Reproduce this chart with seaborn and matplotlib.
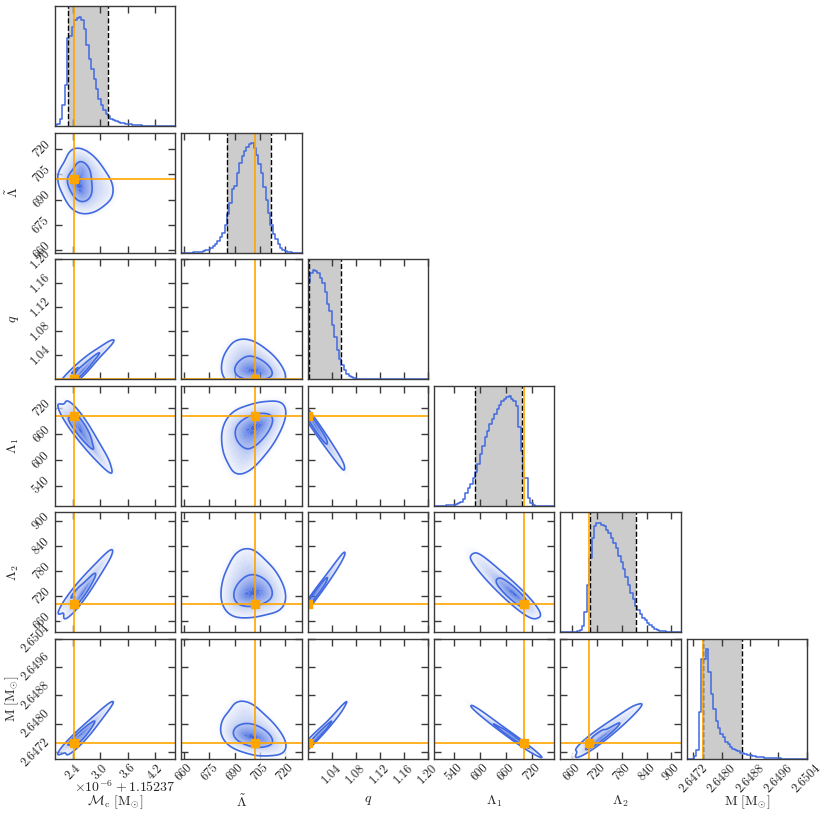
import matplotlib

matplotlib.use("Agg", force=True)
import matplotlib.pyplot as plt
import pandas as pd
import seaborn as sns
from matplotlib.colors import LinearSegmentedColormap

BLUE = "#4169E1"
ORANGE = "#FFA500"

PARAMS = ["mc", "lt", "q", "l1", "l2", "m"]
AXIS_LABELS = [
    r"$\mathcal{M}_{\rm c}\ [\mathrm{M}_{\odot}]$",
    r"$\tilde{\Lambda}$",
    r"$q$",
    r"$\Lambda_1$",
    r"$\Lambda_2$",
    r"$\mathrm{M}\ [\mathrm{M}_{\odot}]$",
]
# chirp mass is shown as offset units of 1e-6 on top of 1.15237
MC_OFFSET_TEXT = r"$\times10^{-6}+1.15237$"

LIMITS = [(2.01, 4.64), (658.3, 729.8), (1.0, 1.2), (493.0, 772.0), (632.0, 922.5), (2.64701, 2.650405)]
TICKS = [
    [2.4, 3.0, 3.6, 4.2],
    [660, 675, 690, 705, 720],
    [1.04, 1.08, 1.12, 1.16, 1.20],
    [540, 600, 660, 720],
    [660, 720, 780, 840, 900],
    [2.6472, 2.6480, 2.6488, 2.6496, 2.6504],
]
TICK_LABELS = [
    ["2.4", "3.0", "3.6", "4.2"],
    ["660", "675", "690", "705", "720"],
    ["1.04", "1.08", "1.12", "1.16", "1.20"],
    ["540", "600", "660", "720"],
    ["660", "720", "780", "840", "900"],
    ["2.6472", "2.6480", "2.6488", "2.6496", "2.6504"],
]
TRUTHS = [2.42, 702.0, 1.0, 701.0, 700.0, 2.64746]
Q_LOW = [2.30, 685.5, 1.0016, 588.5, 704.0, 2.64746]
Q_HIGH = [3.17, 711.7, 1.055, 696.0, 813.5, 2.64858]

# 1D histogram heights (50 bins spanning each axis range)
MC_COUNTS = [3, 6, 24, 64, 124, 265, 272, 300, 321, 327, 329, 321, 294, 244, 204, 174, 144, 114, 84, 64,
             49, 39, 31, 24, 21, 17, 14, 12, 10, 8, 7, 6, 5, 4, 3, 3, 2, 2, 2, 1,
             1, 1, 1, 1, 0.5, 0.5, 0.5, 0.5, 0.3, 0.3]
LT_COUNTS = [0.5, 0.5, 1, 1, 1, 2, 2, 3, 4, 6, 8, 10, 14, 20, 28, 36, 48, 60, 85, 115,
             150, 190, 200, 240, 268, 290, 305, 315, 325, 327, 312, 292, 265, 240, 198, 158, 118, 85, 58, 42,
             26, 16, 9, 5, 3, 2, 1, 1, 0.5, 0.5]
Q_COUNTS = [291, 318, 328, 326, 320, 305, 288, 262, 225, 205, 163, 126, 88, 61, 43, 28, 16, 10, 6, 3,
            2, 1.5, 1, 1, 0.5, 0.5, 0.3, 0.3, 0.3, 0.2, 0.2, 0.2, 0.2, 0.1, 0.1, 0.1, 0.1, 0.1, 0.1, 0.1,
            0, 0, 0, 0, 0, 0, 0, 0, 0, 0.1]
L1_COUNTS = [0.5, 0.5, 0.5, 1, 1, 1.5, 2, 3, 4, 6, 9, 13, 20, 38, 53, 66, 85, 100, 125, 155,
             180, 205, 225, 245, 260, 275, 290, 303, 313, 320, 326, 327, 320, 313, 300, 235, 165, 85, 83, 25,
             8, 3, 1, 0.5, 0.3, 0.2, 0.1, 0.1, 0.1, 0.1]
L2_COUNTS = [0, 0, 0, 0, 0, 0.5, 1, 3, 8, 20, 60, 140, 220, 280, 315, 325, 324, 320, 315, 305,
             295, 280, 265, 250, 228, 210, 188, 166, 142, 118, 98, 78, 66, 55, 44, 36, 28, 21, 15, 10,
             7, 5, 4, 3, 2, 1.5, 1, 0.5, 0.5, 0.5]
M_COUNTS = [0, 0, 0.5, 10, 26, 139, 297, 297, 325, 259, 194, 147, 114, 91, 74, 64, 51, 44, 37, 31,
            26, 23, 19, 17, 14, 12, 11, 9, 8, 7, 6, 5, 4, 4, 3, 3, 2, 2, 2, 1,
            1, 1, 1, 1, 1, 0.5, 0.5, 0.5, 0.5, 0.5]
HIST_COUNTS = [MC_COUNTS, LT_COUNTS, Q_COUNTS, L1_COUNTS, L2_COUNTS, M_COUNTS]

# weighted anchor points of the joint posterior
POINT_MC = [2.48, 2.28, 2.46, 2.56, 2.35, 2.54, 2.64, 2.45, 2.62, 2.74, 2.58, 2.72,
            2.87, 2.72, 2.86, 3.03, 2.92, 3.02, 3.22, 3.12, 3.21]
POINT_LT = [714, 701, 690, 708, 703, 695, 712, 699, 689, 706, 702, 694,
            709, 698, 688, 703, 698, 692, 700, 696, 692]
POINT_Q = [1.002, 1.002, 1.002, 1.009, 1.009, 1.009, 1.017, 1.017, 1.017, 1.026, 1.026, 1.026,
           1.036, 1.036, 1.036, 1.047, 1.047, 1.047, 1.058, 1.058, 1.058]
POINT_L1 = [706, 699, 691, 694, 686, 677, 679, 670, 661, 661, 652, 643,
            641, 632, 623, 619, 610, 601, 595, 586, 577]
POINT_L2 = [709, 704, 698, 723, 717, 710, 738, 731, 724, 755, 748, 741,
            775, 768, 761, 799, 792, 785, 825, 818, 811]
POINT_M = [2.64740, 2.64742, 2.64754, 2.64750, 2.64750, 2.64762, 2.64763, 2.64763, 2.64774,
           2.64779, 2.64779, 2.64788, 2.64798, 2.64798, 2.64806, 2.64822, 2.64822, 2.64828,
           2.64850, 2.64850, 2.64855]
POINT_W = [0.20, 0.20, 0.20, 0.20, 0.20, 0.20, 0.18, 0.18, 0.18, 0.15, 0.15, 0.15,
           0.12, 0.12, 0.12, 0.09, 0.09, 0.09, 0.06, 0.06, 0.06]

CONTOUR_LEVELS = [0.14, 0.61]


def set_style() -> None:
    sns.set_style("ticks")
    plt.rcParams["font.family"] = ["serif"]
    plt.rcParams["font.serif"] = ["cmr10", "DejaVu Serif"]
    plt.rcParams["mathtext.fontset"] = "cm"
    plt.rcParams["axes.formatter.use_mathtext"] = True
    plt.rcParams["axes.unicode_minus"] = False
    plt.rcParams["axes.edgecolor"] = "#3a3a3a"
    plt.rcParams["axes.linewidth"] = 1.0


def style_axis(ax, i, j, n) -> None:
    ax.tick_params(direction="in", top=True, right=True, length=5, width=1.0,
                   color="#3a3a3a", labelsize=9, pad=2)
    ax.set_xticks(TICKS[j])
    if i == n - 1:
        ax.set_xticklabels(TICK_LABELS[j], rotation=45)
        ax.set_xlabel(AXIS_LABELS[j], fontsize=10)
        ax.xaxis.set_label_coords(0.5, -0.29)
    else:
        ax.set_xticklabels([])
        ax.set_xlabel("")
    if i == j:
        ax.set_yticks([])
        ax.set_ylabel("")
        return
    ax.set_yticks(TICKS[i])
    if j == 0:
        ax.set_yticklabels(TICK_LABELS[i], rotation=45, va="center")
        ax.set_ylabel(AXIS_LABELS[i], fontsize=10)
        ax.yaxis.set_label_coords(-0.28, 0.5)
    else:
        ax.set_yticklabels([])
        ax.set_ylabel("")


def draw_hist(ax, k) -> None:
    counts = HIST_COUNTS[k]
    lo, hi = LIMITS[k]
    width = (hi - lo) / len(counts)
    hist_df = pd.DataFrame({"x": [lo + (b + 0.5) * width for b in range(len(counts))], "n": counts})
    ax.axvspan(Q_LOW[k], Q_HIGH[k], color="0.5", alpha=0.4, lw=0, zorder=0)
    sns.histplot(data=hist_df, x="x", weights="n", bins=len(counts), binrange=(lo, hi),
                 element="step", fill=False, color=BLUE, linewidth=1.1, ax=ax)
    for q in (Q_LOW[k], Q_HIGH[k]):
        ax.axvline(q, color="k", ls="--", lw=1.0)
    ax.axvline(TRUTHS[k], color=ORANGE, lw=1.2)
    ax.set_xlim(lo, hi)
    ax.set_ylim(0, 1.1 * max(counts))


def draw_pair(ax, df, i, j, cmap) -> None:
    xn, yn = PARAMS[j], PARAMS[i]
    sns.kdeplot(data=df, x=xn, y=yn, weights="w", fill=True, cmap=cmap, levels=60,
                thresh=0.06, bw_adjust=1.2, antialiased=True, ax=ax)
    sns.kdeplot(data=df, x=xn, y=yn, weights="w", levels=CONTOUR_LEVELS, color=BLUE,
                linewidths=1.2, bw_adjust=1.2, ax=ax)
    ax.axvline(TRUTHS[j], color=ORANGE, lw=1.2)
    ax.axhline(TRUTHS[i], color=ORANGE, lw=1.2)
    ax.plot([TRUTHS[j]], [TRUTHS[i]], "s", color=ORANGE, ms=6)
    ax.set_xlim(*LIMITS[j])
    ax.set_ylim(*LIMITS[i])


def main() -> None:
    set_style()
    df = pd.DataFrame({
        "mc": POINT_MC, "lt": POINT_LT, "q": POINT_Q, "l1": POINT_L1,
        "l2": POINT_L2, "m": POINT_M, "w": POINT_W,
    })
    cmap = LinearSegmentedColormap.from_list("white_blue", ["#ffffff", "#b9c8f3", BLUE])
    n = len(PARAMS)
    fig, axes = plt.subplots(n, n, figsize=(8.3, 8.14), dpi=100)
    fig.subplots_adjust(left=0.0663, right=0.9723, bottom=0.0676, top=0.9926,
                        wspace=0.05, hspace=0.05)
    for i in range(n):
        for j in range(n):
            ax = axes[i, j]
            if j > i:
                ax.set_visible(False)
                continue
            if i == j:
                draw_hist(ax, i)
            else:
                draw_pair(ax, df, i, j, cmap)
            style_axis(ax, i, j, n)
    axes[n - 1, 0].text(1.0, -0.235, MC_OFFSET_TEXT, transform=axes[n - 1, 0].transAxes,
                        ha="right", va="center", fontsize=10)
    fig.savefig("out.png", dpi=100)


if __name__ == "__main__":
    main()
